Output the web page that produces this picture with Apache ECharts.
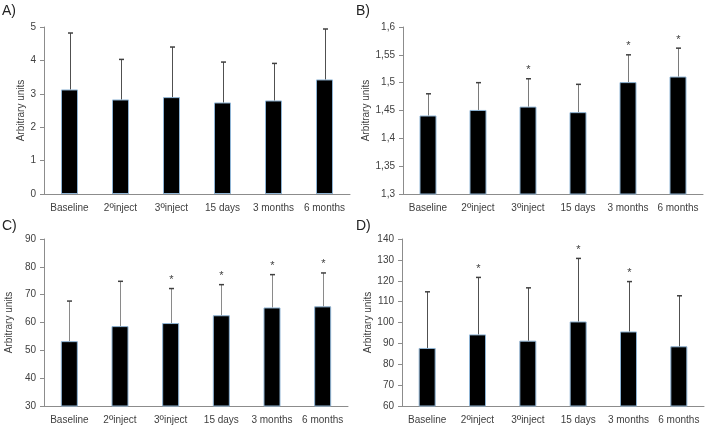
<!DOCTYPE html>
<html>
<head>
<meta charset="utf-8">
<script src="https://cdn.jsdelivr.net/npm/echarts@6/dist/echarts.min.js"></script>
<style>
  html, body { margin: 0; padding: 0; background: #fff; }
  #chart { width: 709px; height: 428px; }
</style>
</head>
<body>
<div id="chart"></div>
<script>
// categories shared by all four panels
var categories = ['Baseline', '2ºinject', '3ºinject', '15 days', '3 months', '6 months'];

// A) mean and top of error bar
var meanA = [3.13, 2.83, 2.90, 2.74, 2.80, 3.43];
var upperA = [4.82, 4.03, 4.40, 3.95, 3.91, 4.94];
var starA = [0, 0, 0, 0, 0, 0];

// B)
var meanB = [1.441, 1.451, 1.457, 1.447, 1.501, 1.511];
var upperB = [1.480, 1.500, 1.507, 1.497, 1.550, 1.562];
var starB = [0, 0, 1, 0, 1, 1];

// C)
var meanC = [53.3, 58.7, 59.8, 62.6, 65.4, 65.8];
var upperC = [67.7, 74.8, 72.2, 73.6, 77.2, 77.8];
var starC = [0, 0, 1, 1, 1, 1];

// D)
var meanD = [87.8, 94.3, 91.3, 100.5, 95.7, 88.6];
var upperD = [114.7, 121.6, 116.6, 130.7, 119.6, 112.8];
var starD = [0, 1, 0, 1, 1, 0];

// y axis ticks: [min, max, interval]
var ticksA = [0, 5, 1];
var ticksB = [1.3, 1.6, 0.05];
var ticksC = [30, 90, 10];
var ticksD = [60, 140, 10];

var panels = [
    { name: 'A)', mean: meanA, upper: upperA, star: starA, ticks: ticksA,
      grid: { left: 44, top: 27, width: 306, height: 167 }, gap: 18, err: '#505050' },
    { name: 'B)', mean: meanB, upper: upperB, star: starB, ticks: ticksB,
      grid: { left: 403, top: 27, width: 300, height: 167 }, gap: 30, err: '#7a7a7a' },
    { name: 'C)', mean: meanC, upper: upperC, star: starC, ticks: ticksC,
      grid: { left: 44, top: 239, width: 304, height: 167 }, gap: 30, err: '#8a8a8a' },
    { name: 'D)', mean: meanD, upper: upperD, star: starD, ticks: ticksD,
      grid: { left: 402, top: 239, width: 302, height: 167 }, gap: 29, err: '#505050' }
];

var chart = echarts.init(document.getElementById('chart'));

function fmtB(v) {
    // 1.35 -> "1,35", 1.4 -> "1,4"
    var s = (Math.round(v * 100) / 100).toString();
    return s.replace('.', ',');
}

// make the ordinal sign a bit bigger, like the original
function fmtCat(v) {
    var k = v.indexOf('º');
    if (k < 0) return v;
    return v.slice(0, k) + '{o|º}' + v.slice(k + 1);
}

var grids = [], xAxes = [], yAxes = [], series = [], graphics = [];

panels.forEach(function (p, i) {
    grids.push(p.grid);

    xAxes.push({
        type: 'category',
        gridIndex: i,
        data: categories,
        axisLine: { lineStyle: { color: '#8c8c8c', width: 1 } },
        axisTick: { show: false },
        axisLabel: {
            interval: 0, margin: 8, fontSize: 10, lineHeight: 13, color: '#404040', fontFamily: 'Liberation Sans',
            formatter: fmtCat,
            rich: { o: { fontSize: 12, lineHeight: 13, color: '#404040', fontFamily: 'Liberation Sans' } }
        }
    });

    yAxes.push({
        type: 'value',
        gridIndex: i,
        min: p.ticks[0],
        max: p.ticks[1],
        interval: p.ticks[2],
        name: 'Arbitrary units',
        nameLocation: 'middle',
        nameRotate: 90,
        nameGap: p.gap,
        nameTextStyle: { fontSize: 10, color: '#404040', fontFamily: 'Liberation Sans' },
        splitLine: { show: false },
        axisLine: { show: true, lineStyle: { color: '#8c8c8c', width: 1 } },
        axisTick: { show: true, inside: false, length: 4, lineStyle: { color: '#8c8c8c' } },
        axisLabel: {
            fontSize: 10, color: '#404040', fontFamily: 'Liberation Sans', margin: 8,
            formatter: i === 1 ? fmtB : null
        }
    });

    series.push({
        type: 'bar',
        xAxisIndex: i,
        yAxisIndex: i,
        data: p.mean,
        barWidth: 17,
        itemStyle: { color: '#000', borderColor: '#8fb4d4', borderWidth: 1 },
        z: 2
    });

    // error bars (upper only) with optional asterisk
    var errData = p.mean.map(function (m, k) {
        return [k, p.upper[k], m, p.star[k]];
    });
    series.push({
        type: 'custom',
        xAxisIndex: i,
        yAxisIndex: i,
        data: errData,
        z: 3,
        clip: false,
        renderItem: function (params, api) {
            var top = api.coord([api.value(0), api.value(1)]);
            var base = api.coord([api.value(0), api.value(2)]);
            var x = Math.round(top[0]) + 0.5;
            var kids = [
                { type: 'line', shape: { x1: x, y1: base[1], x2: x, y2: top[1] },
                  style: { stroke: p.err, lineWidth: 1 } },
                { type: 'line', shape: { x1: x - 2.5, y1: top[1], x2: x + 2.5, y2: top[1] },
                  style: { stroke: '#404040', lineWidth: 1.5 } }
            ];
            if (api.value(3)) {
                kids.push({ type: 'text', x: x, y: top[1] - 3,
                    style: { text: '*', fontSize: 11, fill: '#404040', align: 'center',
                             verticalAlign: 'bottom', fontFamily: 'Liberation Sans' } });
            }
            return { type: 'group', children: kids };
        }
    });

    graphics.push({
        type: 'text',
        left: i % 2 === 0 ? 2 : 356,
        top: i < 2 ? 4 : 219,
        style: { text: p.name, fontSize: 14, fill: '#222', fontFamily: 'Liberation Sans' }
    });
});

var option = {
    animation: false,
    backgroundColor: '#fff',
    grid: grids,
    xAxis: xAxes,
    yAxis: yAxes,
    series: series,
    graphic: graphics
};
chart.setOption(option);
</script>
</body>
</html>
